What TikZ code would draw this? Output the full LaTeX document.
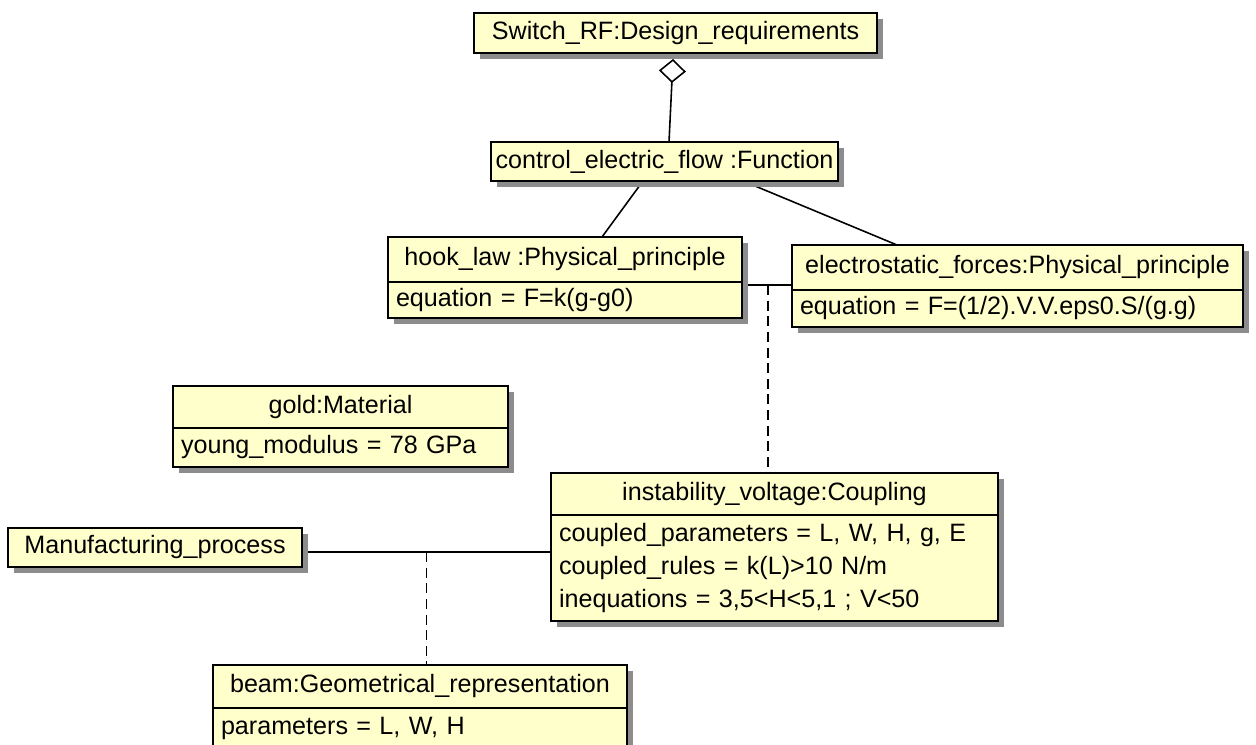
\documentclass[tikz,border=0pt]{standalone}
\usepackage{fontspec}
\setmainfont{Liberation Sans}
\usetikzlibrary{positioning,shadows,arrows.meta,calc}

\definecolor{umlYellow}{RGB}{255,255,204}
\definecolor{umlShadow}{RGB}{140,140,140}

\tikzset{
    BOX/.style={draw=black, fill=umlYellow, line width=1.1pt,
        shape=rectangle, outer sep=0mm, inner xsep=0.16cm, inner ysep=0.5mm,
        font={\fontsize{14.3pt}{18.8pt}\selectfont},
        drop shadow={shadow xshift=0.12cm, shadow yshift=-0.12cm,
            fill=umlShadow, opacity=1}},
    TITLE/.style={BOX, anchor=north west, align=center, inner xsep=0.06cm},
    ATTR/.style={BOX, align=left},
    EDGE/.style={draw=black, line width=0.9pt},
    DASHED_EDGE/.style={EDGE, dash pattern=on 5.7pt off 3.2pt}
}
\pgfdeclarelayer{edgelayer}
\pgfdeclarelayer{nodelayer}
\pgfsetlayers{edgelayer,main,nodelayer}

\begin{document}
\begin{tikzpicture}
    \useasboundingbox (0,0) rectangle (25.12,14.90);
    \begin{pgfonlayer}{nodelayer}
        \node [TITLE, minimum width=8.06cm, minimum height=0.80cm] (1) at (9.48, 14.64) {Switch\_RF:Design\_requirements};
        \node [TITLE, minimum width=6.94cm, minimum height=0.78cm] (2) at (9.82, 12.06) {control\_electric\_flow :Function};
        \node [TITLE, minimum width=7.08cm, minimum height=0.90cm] (3) at (7.76, 10.16) {hook\_law :Physical\_principle};
        \node [ATTR, text width=6.76cm, minimum height=0.72cm, below=0pt of 3] (9) {equation = F=k(g-g0)};
        \node [TITLE, minimum width=9.02cm, minimum height=0.90cm] (4) at (15.84, 10.00) {electrostatic\_forces:Physical\_principle};
        \node [ATTR, text width=8.70cm, minimum height=0.74cm, below=0pt of 4] (10) {equation = F=(1/2).V.V.eps0.S/(g.g)};
        \node [TITLE, minimum width=6.70cm, minimum height=0.84cm] (5) at (3.46, 7.18) {gold:Material};
        \node [ATTR, text width=6.38cm, minimum height=0.78cm, below=0pt of 5] (11) {young\_modulus = 78 GPa};
        \node [TITLE, minimum width=8.94cm, minimum height=0.84cm] (6) at (11.02, 5.44) {instability\_voltage:Coupling};
        \node [ATTR, text width=8.62cm, minimum height=2.12cm, below=0pt of 6] (12) {coupled\_parameters = L, W, H, g, E\\coupled\_rules = k(L)>10 N/m\\inequations = 3,5<H<5,1 ; V<50};
        \node [TITLE, minimum width=5.88cm, minimum height=0.78cm] (7) at (0.16, 4.34) {Manufacturing\_process};
        \node [TITLE, minimum width=8.28cm, minimum height=0.86cm] (8) at (4.26, 1.60) {beam:Geometrical\_representation};
        \node [ATTR, text width=7.96cm, minimum height=0.80cm, below=0pt of 8] (13) {parameters = L, W, H};
    \end{pgfonlayer}
    \coordinate (14) at ([yshift=-0.06cm]9.north east);
    \coordinate (15) at ([yshift=-0.09cm]7.east);
    \path (14) -- (14 -| 4.west) coordinate[pos=0.52] (16);
    \path (15) -- (15 -| 12.west) coordinate[pos=0.5] (17);
    \begin{pgfonlayer}{edgelayer}
        \draw[EDGE, -{Diamond[open, length=0.48cm, width=0.54cm]}] ([xshift=0.09cm]2.north) to ([xshift=-0.05cm, yshift=-0.12cm]1.south);
        \draw[EDGE] ([xshift=-0.43cm]2.south) to ([xshift=0.74cm]3.north);
        \draw[EDGE] ([xshift=1.57cm]2.south) to ([xshift=-2.41cm]4.north);
        \draw[EDGE] (14) to (14 -| 4.west);
        \draw[EDGE] (15) to (15 -| 12.west);
        \draw[DASHED_EDGE] (16) to (16 |- 6.north);
        \draw[DASHED_EDGE] (17) to (17 |- 8.north);
    \end{pgfonlayer}
\end{tikzpicture}
\end{document}
